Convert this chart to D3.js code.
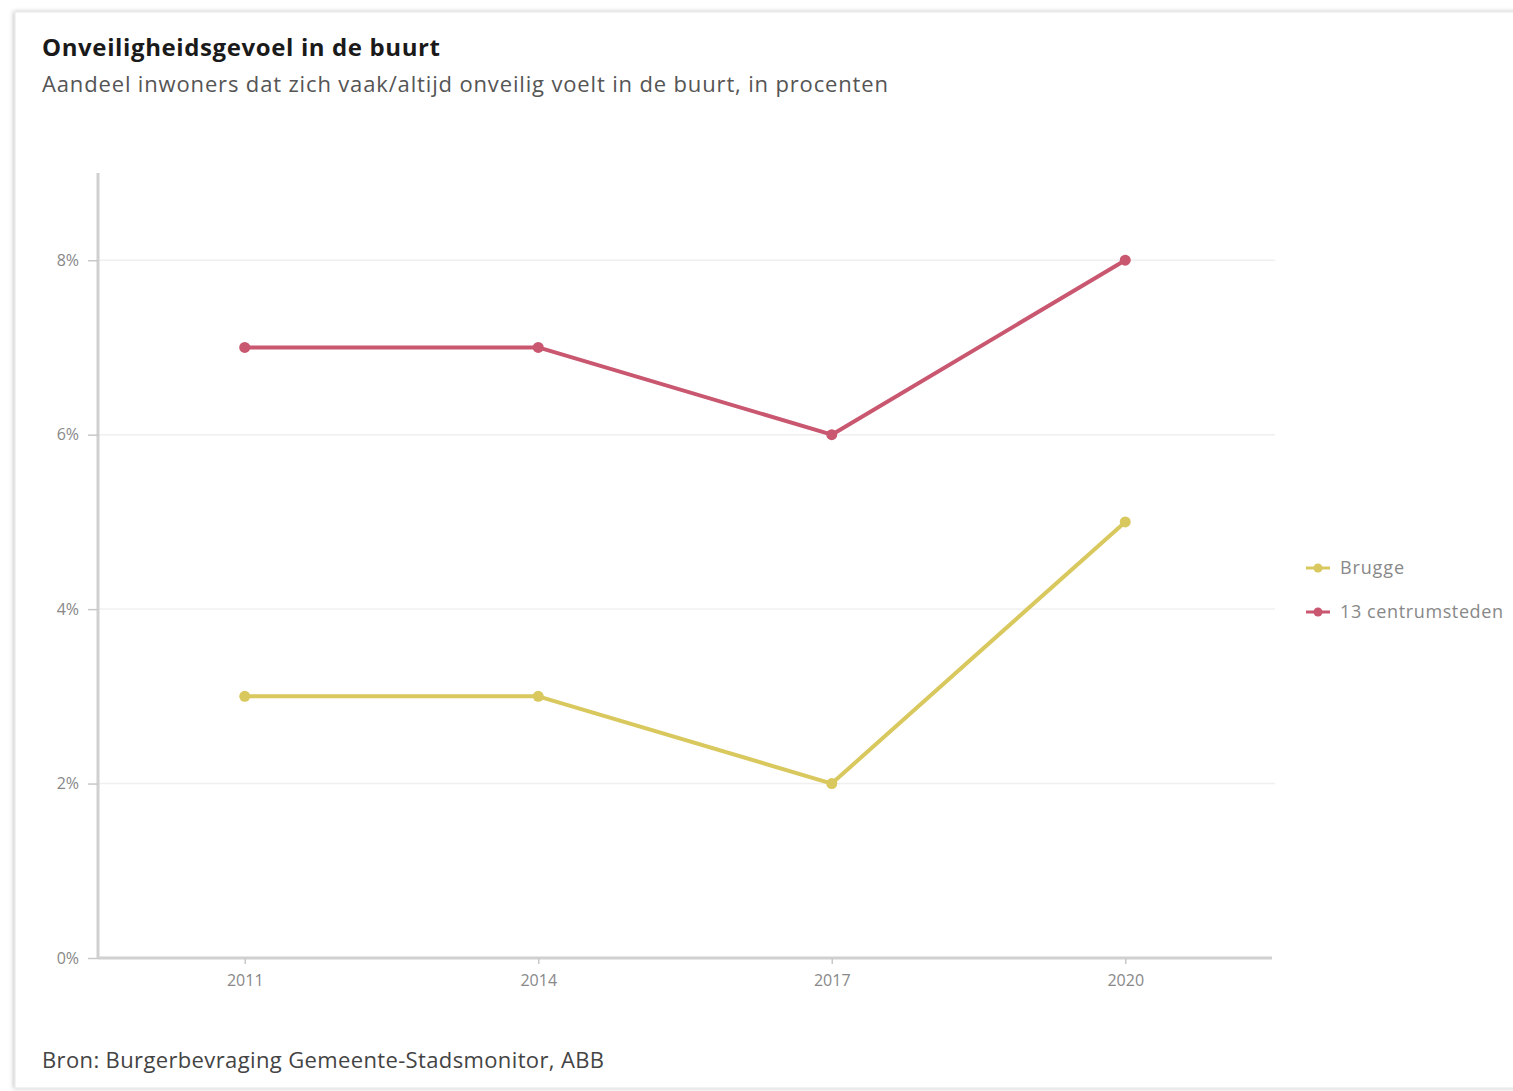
<!DOCTYPE html>
<html><head><meta charset="utf-8">
<script src="https://cdn.jsdelivr.net/npm/d3@7"></script>
<style>
html,body{margin:0;padding:0;background:#fff;}
svg{display:block;font-family:"Open Sans",sans-serif;}
</style></head>
<body>
<svg id="chart" width="1513" height="1091"></svg>
<script>
const years = ["2011","2014","2017","2020"];
const brugge = [3,3,2,5];
const centrumsteden = [7,7,6,8];
const seriesNames = ["Brugge","13 centrumsteden"];
const seriesColors = ["#d9c85e","#c95770"];
const yTicks = [0,2,4,6,8];

const svg = d3.select("#chart");
const defs = svg.append("defs");
const f = defs.append("filter").attr("id","sh").attr("x","-5%").attr("y","-5%").attr("width","110%").attr("height","110%");
f.append("feDropShadow").attr("dx",-1).attr("dy",0).attr("stdDeviation",2).attr("flood-color","#000").attr("flood-opacity",0.25);
svg.append("rect").attr("x",15).attr("y",12).attr("width",1520).attr("height",1076).attr("fill","#fff").attr("stroke","#e6e6e6").attr("filter","url(#sh)");

svg.append("text").attr("x",42).attr("y",56).attr("font-size",24).attr("font-weight",700).attr("fill","#1a1a1a")
  .attr("textLength",398).attr("lengthAdjust","spacing").text("Onveiligheidsgevoel in de buurt");
svg.append("text").attr("x",42).attr("y",92).attr("font-size",22).attr("fill","#555")
  .attr("textLength",846).attr("lengthAdjust","spacing").text("Aandeel inwoners dat zich vaak/altijd onveilig voelt in de buurt, in procenten");
svg.append("text").attr("x",42).attr("y",1068).attr("font-size",22).attr("fill","#444")
  .attr("textLength",562).attr("lengthAdjust","spacing").text("Bron: Burgerbevraging Gemeente-Stadsmonitor, ABB");

const x = d3.scalePoint().domain(years).range([98,1272]).padding(0.5);
const y = d3.scaleLinear().domain([0,9]).range([958,173]);

svg.append("g").selectAll("line").data(yTicks.filter(d=>d>0)).join("line")
  .attr("x1",99).attr("x2",1275).attr("y1",d=>y(d)).attr("y2",d=>y(d))
  .attr("stroke","#f0f0f0").attr("stroke-width",1.5);

const ya = svg.append("g").attr("transform","translate(98,0)")
  .call(d3.axisLeft(y).tickValues(yTicks).tickFormat(d=>d+"%").tickSize(10).tickPadding(9));
ya.select(".domain").attr("stroke","#d0d0d0").attr("stroke-width",3).attr("d","M0,173V958");
ya.selectAll(".tick line").attr("stroke","#c8c8c8").attr("stroke-width",1.5);
ya.selectAll(".tick text").attr("font-size",16).attr("fill","#888").attr("font-family","'Open Sans',sans-serif");

const xa = svg.append("g").attr("transform","translate(0,958)")
  .call(d3.axisBottom(x).tickSize(6).tickPadding(11));
xa.select(".domain").attr("stroke","#d0d0d0").attr("stroke-width",3).attr("d","M98,0H1272");
xa.selectAll(".tick line").attr("stroke","#c8c8c8").attr("stroke-width",1.5);
xa.selectAll(".tick text").attr("font-size",16).attr("fill","#888").attr("font-family","'Open Sans',sans-serif");

const data = [brugge, centrumsteden];
const line = d3.line().x((d,i)=>x(years[i])).y(d=>y(d));
data.forEach((vals,si)=>{
  svg.append("path").datum(vals).attr("d",line).attr("fill","none")
    .attr("stroke",seriesColors[si]).attr("stroke-width",4).attr("stroke-linejoin","round");
  svg.append("g").selectAll("circle").data(vals).join("circle")
    .attr("cx",(d,i)=>x(years[i])).attr("cy",d=>y(d)).attr("r",5.5).attr("fill",seriesColors[si]);
});

const lg = svg.append("g");
const legendLens = [64,163];
seriesNames.forEach((n,i)=>{
  const ly = 568 + i*44;
  lg.append("line").attr("x1",1306).attr("x2",1330).attr("y1",ly).attr("y2",ly).attr("stroke",seriesColors[i]).attr("stroke-width",3);
  lg.append("circle").attr("cx",1318).attr("cy",ly).attr("r",4.5).attr("fill",seriesColors[i]);
  lg.append("text").attr("x",1340).attr("y",ly+6).attr("font-size",18).attr("fill","#888")
    .attr("textLength",legendLens[i]).attr("lengthAdjust","spacing").text(n);
});
</script>
</body></html>
